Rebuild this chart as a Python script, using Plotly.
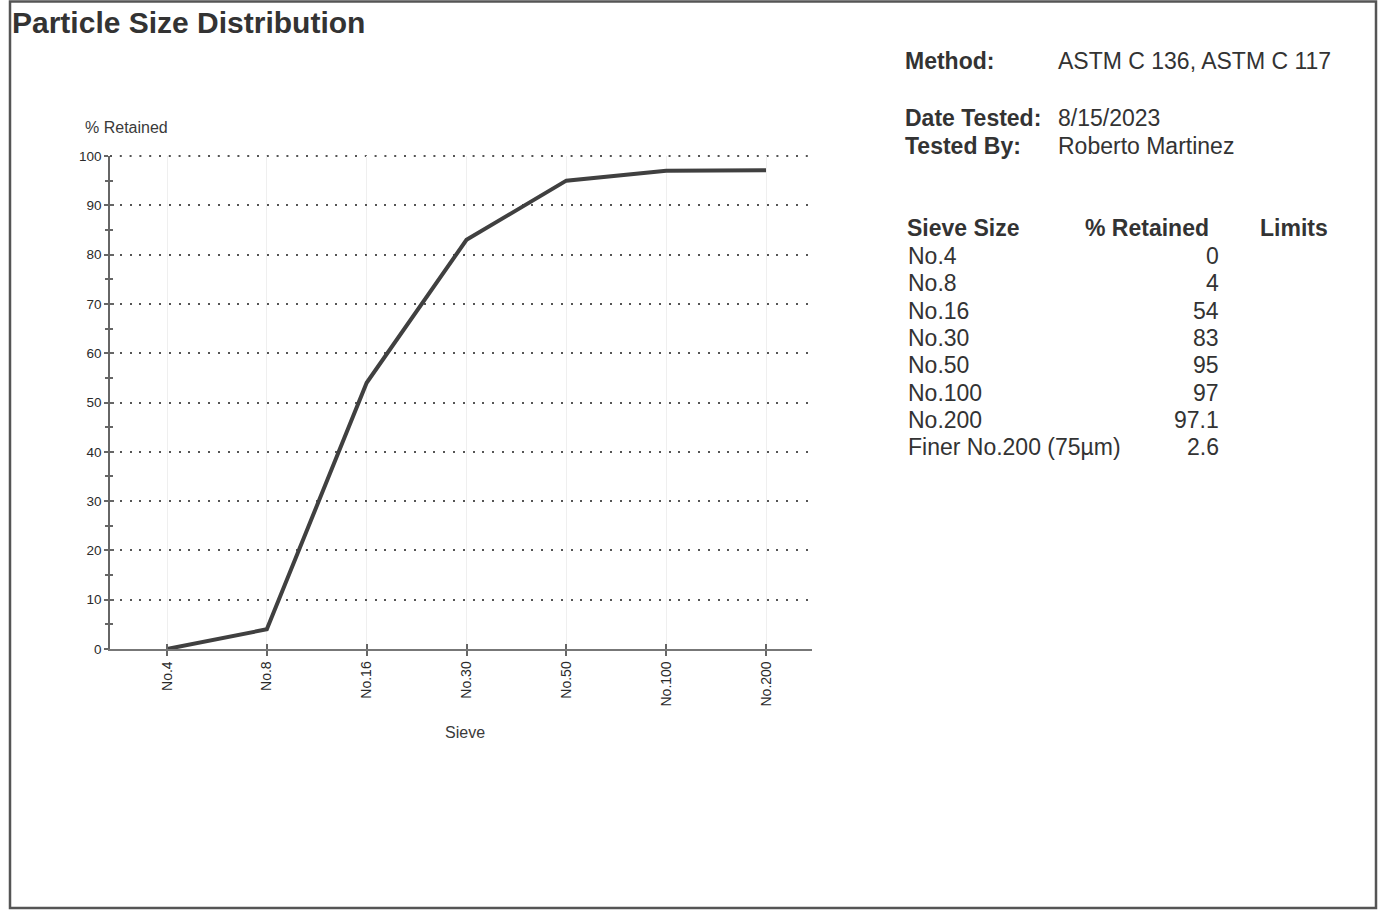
import plotly.graph_objects as go

# Sieve analysis results
sieves = ["No.4", "No.8", "No.16", "No.30", "No.50", "No.100", "No.200"]
retained = [0, 4, 54, 83, 95, 97, 97.1]
finer_label = "Finer No.200 (75µm)"
finer_value = 2.6

title_text = "Particle Size Distribution"
info_labels = ["Method:", "Date Tested:", "Tested By:"]
info_values = ["ASTM C 136, ASTM C 117", "8/15/2023", "Roberto Martinez"]
table_headers = ["Sieve Size", "% Retained", "Limits"]

W, H = 1378, 913
L, R, T, B = 110, 812, 156, 649  # plot area in pixels

FONT = "Liberation Sans, Arial, sans-serif"
INK = "#333333"
GRID_DASH = "2px,7.8px"


def px(x):
    return (x - L) / (R - L)


def py(y):
    return (B - y) / (B - T)


fig = go.Figure()
fig.add_trace(go.Scatter(
    x=sieves, y=retained, mode="lines",
    line=dict(color="#404040", width=4),
    hoverinfo="x+y", showlegend=False,
))

step = (766 - 167) / 6
x_range = [(L - 167) / step, (R - 167) / step]
y_ticks = list(range(0, 101, 10))

fig.update_layout(
    width=W, height=H,
    margin=dict(l=L, r=W - R, t=T, b=H - B),
    paper_bgcolor="white", plot_bgcolor="white",
    font=dict(family=FONT, color=INK),
    xaxis=dict(
        type="category", range=x_range, categoryorder="array", categoryarray=sieves,
        showline=True, linecolor="#777777", linewidth=1.5,
        ticks="outside", ticklen=5, tickcolor="#666666", tickwidth=1.5,
        tickangle=-90, tickfont=dict(size=14, color="#2a2a2a"),
        showgrid=True, gridcolor="#efefef", gridwidth=1,
        zeroline=False, fixedrange=True,
    ),
    yaxis=dict(
        range=[0, 100], tickvals=y_ticks,
        showline=True, linecolor="#666666", linewidth=1.5,
        ticks="outside", ticklen=4, tickcolor="#666666", tickwidth=1.5,
        minor=dict(dtick=5, ticks="outside", ticklen=3, tickcolor="#666666", tickwidth=1.5, showgrid=False),
        tickfont=dict(size=13.5, color="#2a2a2a"),
        showgrid=True, gridcolor="#555555", gridwidth=2, griddash=GRID_DASH,
        zeroline=False, fixedrange=True,
    ),
    # companion axes carrying the inner half of each tick mark
    xaxis2=dict(
        overlaying="x", range=x_range, tickvals=list(range(len(sieves))),
        ticks="inside", ticklen=5, tickcolor="#666666", tickwidth=1.5,
        showticklabels=False, showgrid=False, zeroline=False, showline=False,
        fixedrange=True,
    ),
    yaxis2=dict(
        overlaying="y", range=[0, 100], tickvals=y_ticks,
        ticks="inside", ticklen=4, tickcolor="#666666", tickwidth=1.5,
        minor=dict(dtick=5, ticks="inside", ticklen=3, tickcolor="#666666", tickwidth=1.5),
        showticklabels=False, showgrid=False, zeroline=False, showline=False,
        fixedrange=True,
    ),
)
fig.add_trace(go.Scatter(x=[None], y=[None], xaxis="x2", yaxis="y2",
                         showlegend=False, hoverinfo="skip"))

# gridline along the top edge of the plot area (the 100 % level)
fig.add_shape(type="line", xref="paper", yref="paper", x0=0, x1=1, y0=1, y1=1,
              line=dict(color="#555555", width=2, dash=GRID_DASH), layer="below")

annotations = []


def text(x, y, s, size, bold=False, anchor="left", color=INK):
    annotations.append(dict(
        x=px(x), y=py(y), xref="paper", yref="paper",
        text=f"<b>{s}</b>" if bold else s, showarrow=False,
        xanchor=anchor, yanchor="middle",
        font=dict(size=size, family=FONT, color=color),
    ))


text(10, 22, title_text, 30, bold=True)
text(83, 127, "% Retained", 16, color="#3a3a3a")
text(465, 732, "Sieve", 16, anchor="center", color="#3a3a3a")

for lab, val, y in zip(info_labels, info_values, [61, 118, 146]):
    text(903, y, lab, 23, bold=True)
    text(1056, y, val, 23)

text(905, 228, table_headers[0], 23, bold=True)
text(1211, 228, table_headers[1], 23, bold=True, anchor="right")
text(1258, 228, table_headers[2], 23, bold=True)

row_y = [256, 283.3, 310.6, 337.9, 365.2, 392.5, 419.8, 447.1]
rows = list(zip(sieves, retained)) + [(finer_label, finer_value)]
for (name, val), y in zip(rows, row_y):
    text(906, y, name, 23)
    text(1221, y, f"{val:g}", 23, anchor="right")

fig.update_layout(annotations=annotations)

# page frame
fig.add_shape(type="rect", xref="paper", yref="paper",
              x0=px(10), x1=px(1376), y0=py(908), y1=py(1.5),
              line=dict(color="#555555", width=2.5), layer="below")

fig.write_html("out.html")
